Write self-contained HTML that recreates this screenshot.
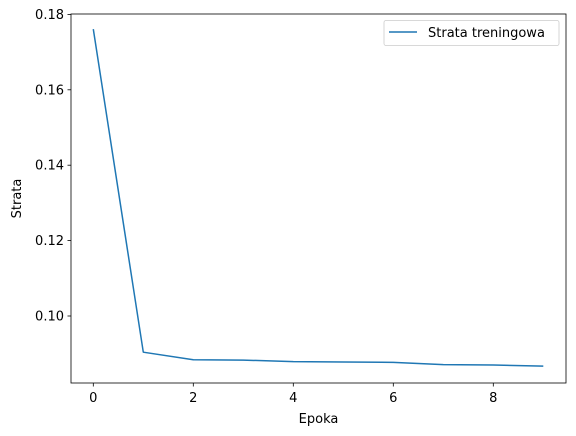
<!DOCTYPE html>
<html><head><meta charset="utf-8"><style>body{margin:0;background:#fff}svg{display:block}text{font-family:"DejaVu Sans","Liberation Sans",sans-serif;font-size:13px;fill:#000}</style></head>
<body>
<svg id="c" width="576" height="436"></svg>
<script>
const epochs=[0,1,2,3,4,5,6,7,8,9];
const lossValues=[0.1761,0.0904,0.0884,0.0883,0.0879,0.0878,0.0877,0.0871,0.0870,0.0867];
const xTicks=[0,2,4,6,8];
const yTicks=[0.10,0.12,0.14,0.16,0.18];
const L=71,R=566,T=14,B=383;
const sx=v=>93.3+(v-0)*50;
const sy=v=>316-(v-0.10)*3770;
const svg=document.getElementById('c');
const NS='http://www.w3.org/2000/svg';
function mk(t,a,p){const e=document.createElementNS(NS,t);for(const k in a)e.setAttribute(k,a[k]);(p||svg).appendChild(e);return e;}
xTicks.forEach(v=>{const g=mk('g',{});


mk('line',{x1:sx(v),x2:sx(v),y1:B,y2:B+3.5,stroke:'#000','stroke-width':0.8},g);
const t=mk('text',{x:sx(v),y:B+19,'text-anchor':'middle'},g);t.textContent=v;});
yTicks.forEach(v=>{const g=mk('g',{});


mk('line',{x1:L-3.5,x2:L,y1:sy(v),y2:sy(v),stroke:'#000','stroke-width':0.8},g);
const t=mk('text',{x:L-7,y:sy(v)+4.5,'text-anchor':'end'},g);t.textContent=v.toFixed(2);});
const pl=mk('polyline',{points:epochs.map((e,i)=>sx(e)+','+sy(lossValues[i])).join(' '),fill:'none',stroke:'#1f77b4','stroke-width':1.5,'stroke-linejoin':'round'});


const fr=mk('rect',{x:L,y:T,width:R-L,height:B-T,fill:'none',stroke:'#000','stroke-width':0.8});


const xl=mk('text',{x:(L+R)/2,y:423,'text-anchor':'middle'});xl.textContent='Epoka';


const yl=mk('text',{x:21,y:(T+B)/2,'text-anchor':'middle',transform:'rotate(-90 21 '+(T+B)/2+')'});yl.textContent='Strata';


const lg=mk('g',{});


mk('rect',{x:384,y:20.5,width:175,height:25,rx:2,fill:'#fff',stroke:'#ccc','stroke-width':0.8},lg);
mk('line',{x1:389,x2:417,y1:32,y2:32,stroke:'#1f77b4','stroke-width':1.5},lg);
const lt=mk('text',{x:428,y:37},lg);lt.textContent='Strata treningowa';
</script>
</body></html>
